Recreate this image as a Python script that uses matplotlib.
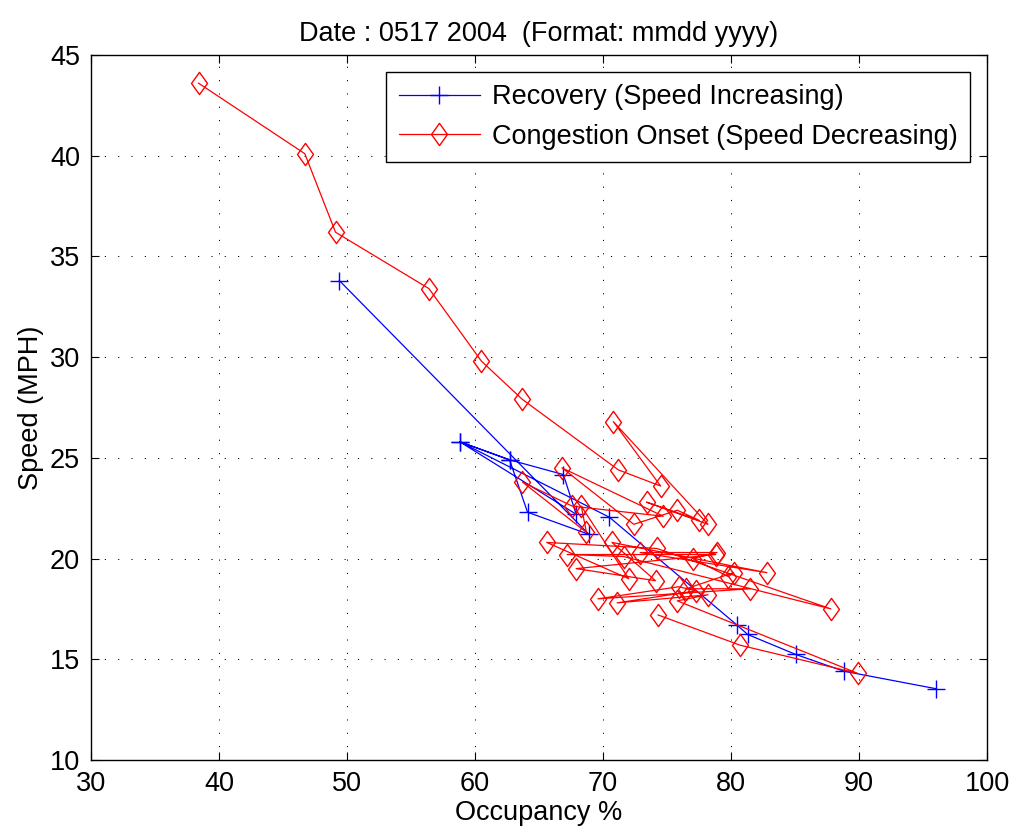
import matplotlib
matplotlib.use("Agg")
import matplotlib.pyplot as plt
from matplotlib.path import Path

plt.rcParams['font.family'] = ['Liberation Sans', 'DejaVu Sans']

# Recovery (speed increasing)
rec_occ = [96.0, 88.8, 85.05, 81.3, 80.5, 70.5, 58.8, 62.7, 66.9, 67.9, 58.8, 62.7, 64.1, 68.9, 49.4]
rec_spd = [13.54, 14.41, 15.24, 16.23, 16.68, 22.05, 25.8, 24.9, 24.17, 22.2, 25.8, 24.9, 22.3, 21.2, 33.8]

# Congestion onset (speed decreasing)
con_occ = [38.4, 46.7, 49.1, 56.4, 60.5, 63.7, 71.2, 74.5, 70.8, 78.2, 73.4, 77.5, 75.8, 72.4,
           66.8, 74.7, 67.6, 63.7, 68.7, 68.3, 72.0, 65.6, 74.2, 87.8, 71.6, 67.2, 78.8, 67.9,
           74.1, 70.7, 82.8, 72.9, 78.9, 77.0, 79.8, 80.2, 76.5, 81.5, 69.6, 75.9, 77.3, 71.1,
           78.2, 75.8, 89.9, 80.7, 74.3]
con_spd = [43.6, 40.1, 36.2, 33.4, 29.8, 27.9, 24.4, 23.6, 26.8, 21.7, 22.8, 21.9, 22.4, 21.7,
           24.5, 22.1, 22.6, 23.8, 21.3, 22.6, 19.0, 20.8, 20.5, 17.5, 20.1, 20.2, 20.2, 19.5,
           18.9, 20.8, 19.3, 20.3, 20.3, 20.0, 19.1, 19.3, 18.5, 18.5, 18.0, 18.6, 18.4, 17.8,
           18.2, 17.9, 14.3, 15.7, 17.2]

title = 'Date : 0517 2004  (Format: mmdd yyyy)'
fs = 19.5

diamond = Path([(0, 1), (0.72, 0), (0, -1), (-0.72, 0), (0, 1)],
               [Path.MOVETO, Path.LINETO, Path.LINETO, Path.LINETO, Path.CLOSEPOLY])

fig = plt.figure(figsize=(10.16, 8.38), dpi=100)
ax = fig.add_axes([0.0896, 0.0931, 0.8819, 0.8413])

ax.plot(rec_occ, rec_spd, color='blue', lw=0.9, marker='+', ms=13, mew=1.0,
        label='Recovery (Speed Increasing)')
ax.plot(con_occ, con_spd, color='red', lw=0.9, marker=diamond, ms=16, mew=1.0,
        mfc='none', mec='red', label='Congestion Onset (Speed Decreasing)')

ax.set_xlim(30, 100)
ax.set_ylim(10, 45)
ax.set_xticks(range(30, 101, 10))
ax.set_yticks(range(10, 46, 5))
ax.grid(True, color='black', linestyle=(0, (1.2, 12.5)), linewidth=0.7)
ax.tick_params(direction='in', length=6, width=0.8, top=True, right=True, labelsize=fs)
ax.tick_params(axis='x', pad=8)
ax.tick_params(axis='y', pad=8)
for s in ax.spines.values():
    s.set_linewidth(1.0)

ax.set_xlabel('Occupancy %', fontsize=fs, labelpad=2)
ax.set_ylabel('Speed (MPH)', fontsize=fs, labelpad=4)
ax.set_title(title, fontsize=fs, pad=10)

leg = ax.legend(loc='upper right', bbox_to_anchor=(0.981, 0.976), borderaxespad=0,
                fontsize=fs, fancybox=False, edgecolor='black', framealpha=1,
                handlelength=3.0, handletextpad=0.45, borderpad=0.45, labelspacing=0.5)
leg.get_frame().set_linewidth(1.0)

fig.savefig('out.png', dpi=100)
